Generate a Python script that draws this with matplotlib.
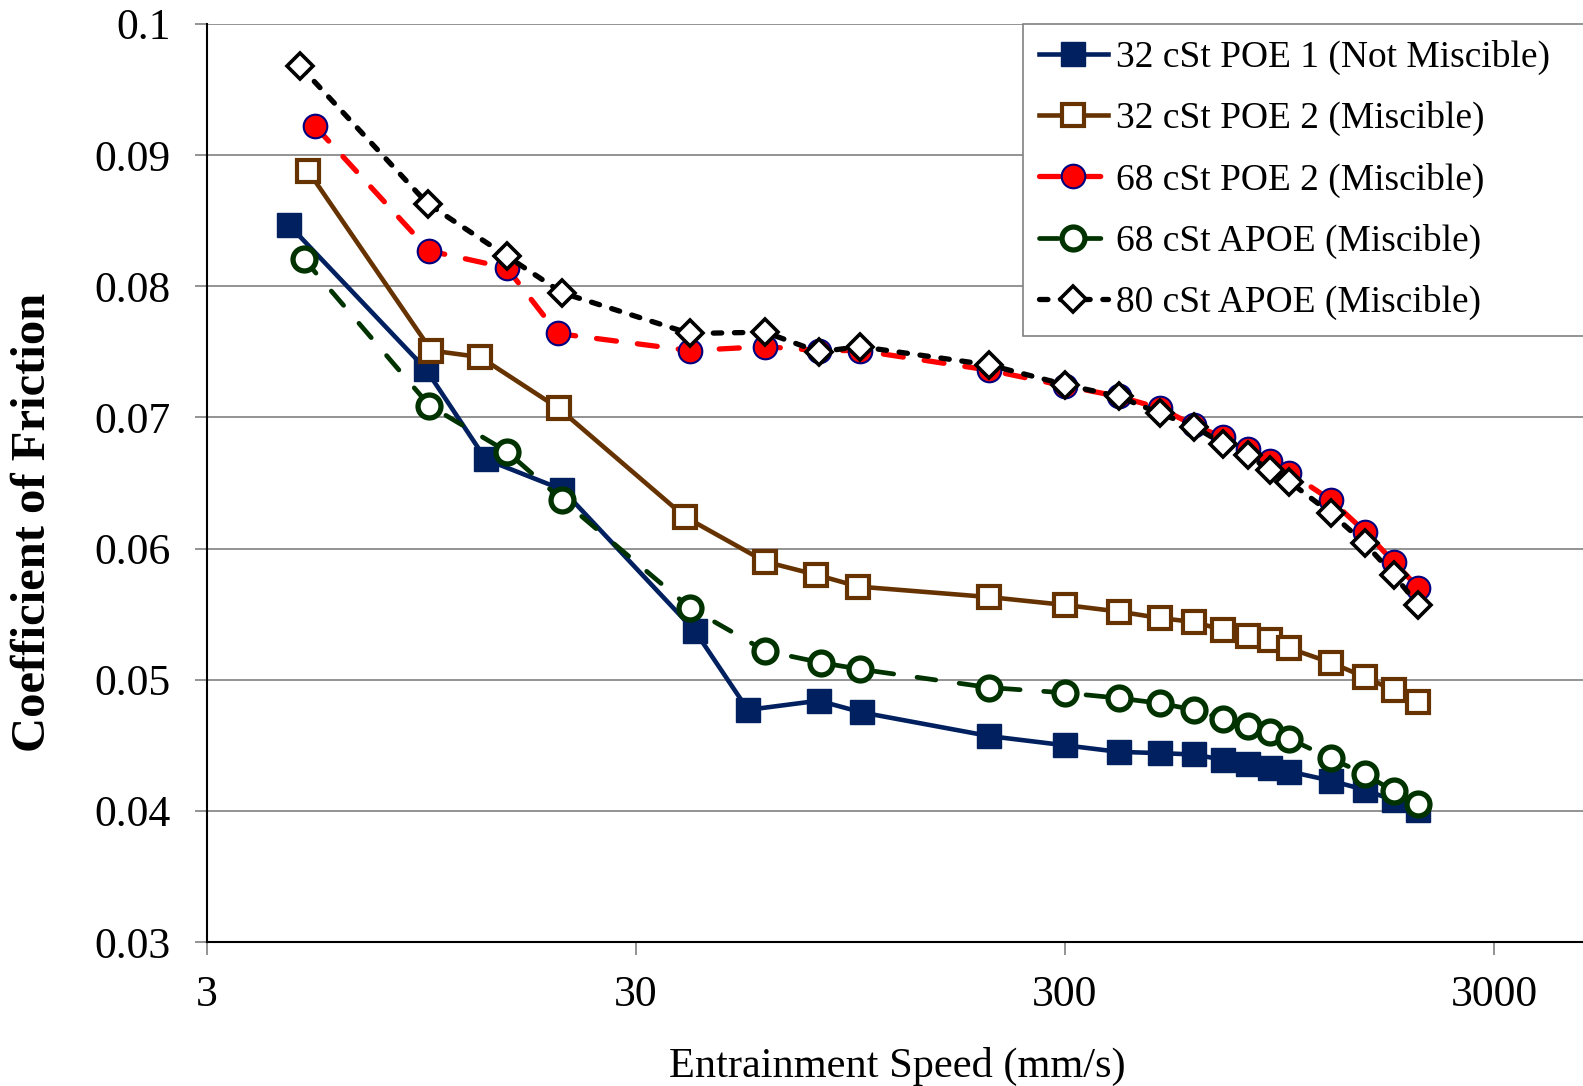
import matplotlib
matplotlib.use("Agg")
import matplotlib.pyplot as plt
from matplotlib.ticker import FixedLocator, NullLocator

plt.rcParams['font.family'] = ['Liberation Serif', 'DejaVu Serif']

# data
tail_x = [200, 300, 400, 500, 600, 700, 800, 900, 1000, 1250, 1500, 1750, 2000]

poe1_x = [4.65, 9.7, 13.4, 20.2, 41.2, 54.7, 80, 101] + tail_x
poe1_y = [0.0847, 0.0737, 0.0668, 0.0645, 0.0537, 0.0477, 0.0484, 0.0475,
          0.0457, 0.0450, 0.0445, 0.0444, 0.0443, 0.0439, 0.0436, 0.0433,
          0.0430, 0.0423, 0.0416, 0.0408, 0.0401]

poe2_x = [5.16, 10.0, 13.0, 19.8, 39.1, 60, 79, 99] + tail_x
poe2_y = [0.0888, 0.0751, 0.0746, 0.0707, 0.0624, 0.0590, 0.0580, 0.0571,
          0.0563, 0.0557, 0.0552, 0.0547, 0.0544, 0.0538, 0.0533, 0.0530,
          0.0524, 0.0513, 0.0502, 0.0492, 0.0483]

poe2_68_x = [5.36, 9.9, 15.0, 19.7, 40, 60, 80, 100] + tail_x
poe2_68_y = [0.0922, 0.0827, 0.0814, 0.0764, 0.0751, 0.0754, 0.0751, 0.0751,
             0.0736, 0.0724, 0.0716, 0.0707, 0.0694, 0.0685, 0.0676, 0.0667,
             0.0658, 0.0637, 0.0613, 0.0590, 0.0570]

apoe68_x = [5.04, 9.9, 15.0, 20.2, 40, 60, 81, 100] + tail_x
apoe68_y = [0.0821, 0.0709, 0.0674, 0.0637, 0.0555, 0.0522, 0.0513, 0.0508,
            0.0494, 0.0490, 0.0486, 0.0482, 0.0477, 0.0470, 0.0465, 0.0460,
            0.0455, 0.0440, 0.0428, 0.0415, 0.0405]

apoe80_x = [4.94, 9.8, 15.0, 20.2, 40, 60, 80, 100] + tail_x
apoe80_y = [0.0968, 0.0863, 0.0823, 0.0795, 0.0764, 0.0765, 0.0750, 0.0754,
            0.0740, 0.0725, 0.0716, 0.0703, 0.0693, 0.0680, 0.0671, 0.0660,
            0.0651, 0.0627, 0.0604, 0.0580, 0.0557]

x_ticks = [3, 30, 300, 3000]
y_ticks = [0.03, 0.04, 0.05, 0.06, 0.07, 0.08, 0.09, 0.1]
y_labels = ["0.03", "0.04", "0.05", "0.06", "0.07", "0.08", "0.09", "0.1"]

W, H = 1583, 1086
left, top, bottom, decade = 207, 24, 942, 429
fig = plt.figure(figsize=(W / 100, H / 100), dpi=100)
ax = fig.add_axes([left / W, (H - bottom) / H, (W - left) / W, (bottom - top) / H])

ax.plot(poe1_x, poe1_y, color="#002060", lw=3.3, marker="s", ms=17,
        mfc="#002060", mec="#002060", label="32 cSt POE 1 (Not Miscible)", zorder=3)
ax.plot(poe2_x, poe2_y, color="#663300", lw=3.3, marker="s", ms=15.5, mew=3,
        mfc="white", mec="#663300", label="32 cSt POE 2 (Miscible)", zorder=3)
ax.plot(poe2_68_x, poe2_68_y, color="red", lw=3.8, ls=(0, (3.8, 4)),
        dash_capstyle="round", marker="o", ms=17, mew=1.5, mfc="red",
        mec="#000080", label="68 cSt POE 2 (Miscible)", zorder=3)
ax.plot(apoe68_x, apoe68_y, color="#003300", lw=3.4, ls=(0, (4, 5)),
        dash_capstyle="round", marker="o", ms=16.5, mew=3.8, mfc="white",
        mec="#003300", label="68 cSt APOE (Miscible)", zorder=3)
ax.plot(apoe80_x, apoe80_y, color="black", lw=3.8, ls=(0, (1.6, 2.4)),
        dash_capstyle="round", marker="D", ms=13.5, mew=2.6, mfc="white",
        mec="black", label="80 cSt APOE (Miscible)", zorder=3)

ax.set_xscale("log")
ax.set_xlim(3, 3 * 10 ** ((W - left) / decade))
ax.set_ylim(0.03, 0.1)
ax.xaxis.set_major_locator(FixedLocator(x_ticks))
ax.xaxis.set_minor_locator(NullLocator())
ax.set_xticklabels([str(t) for t in x_ticks])
ax.set_yticks(y_ticks)
ax.set_yticklabels(y_labels)

ax.grid(axis="y", color="#808080", lw=1.2, zorder=0)
ax.set_axisbelow(True)
for s in ["top", "right"]:
    ax.spines[s].set_visible(False)
ax.spines["left"].set_linewidth(1.5)
ax.spines["bottom"].set_linewidth(1.5)
ax.tick_params(axis="both", direction="out", length=9, width=1.2,
               color="#808080", labelsize=31.5)
ax.tick_params(axis="x", pad=15)
ax.tick_params(axis="y", pad=17)

fig.text(897 / W, 1 - 1066 / H, "Entrainment Speed (mm/s)", fontsize=30.5,
         ha="center", va="center")
fig.text(33 / W, 1 - 522 / H, "Coefficient of Friction", fontsize=35,
         fontweight="bold", rotation=90, ha="center", va="center")

leg = ax.legend(loc="upper left", bbox_to_anchor=(1023 / W, 1 - 334 / H, 0.4, (334 - top) / H),
                bbox_transform=fig.transFigure, mode="expand", borderaxespad=0,
                fontsize=27, numpoints=1, handlelength=1.85, handletextpad=0.2,
                labelspacing=0.70, borderpad=0.42, fancybox=False, framealpha=1)
leg.get_frame().set_edgecolor("#808080")
leg.get_frame().set_linewidth(1.2)

fig.savefig("out.png", dpi=100)
